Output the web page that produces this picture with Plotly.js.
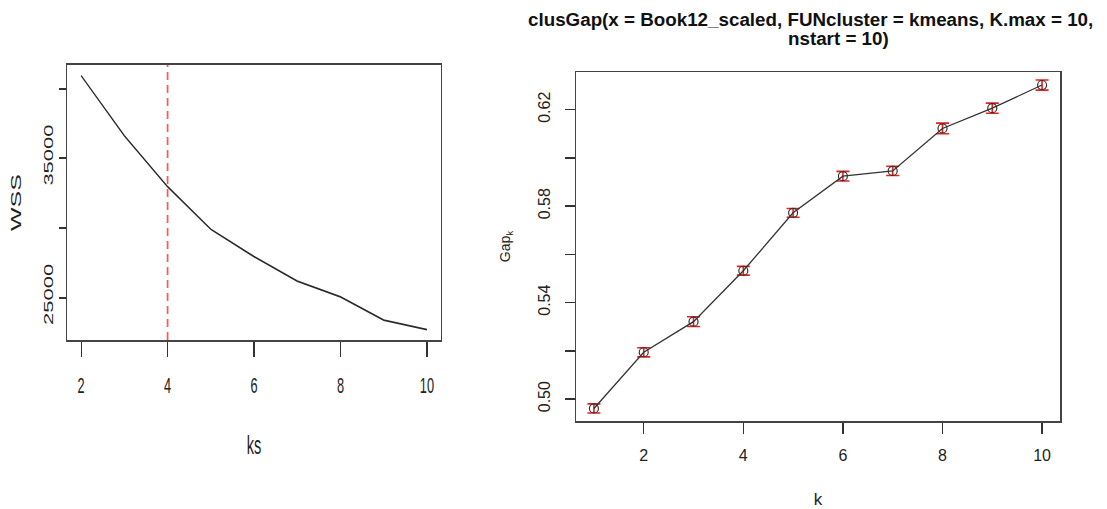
<!DOCTYPE html>
<html>
<head>
<meta charset="utf-8">
<script src="https://cdn.plot.ly/plotly-3.0.1.min.js"></script>
<style>
  html, body { margin: 0; padding: 0; background: #ffffff; }
  #wrap { position: relative; width: 1107px; height: 509px; overflow: hidden; background: #fff; }
  #left { position: absolute; left: 0; top: 0; width: 810px; height: 509px; transform: scaleX(0.58); transform-origin: 0 0; }
  #right { position: absolute; left: 470px; top: 0; width: 637px; height: 509px; }
</style>
</head>
<body>
<div id="wrap">
  <div id="left"></div>
  <div id="right"></div>
</div>
<script>
// ---- Left panel: elbow plot ----
const ks = [2, 3, 4, 5, 6, 7, 8, 9, 10];
const wss = [40935, 36620, 32970, 29910, 27940, 26190, 25060, 23380, 22710];
const elbowK = 4;
const wssTickVals = [25000, 30000, 35000, 40000];
const wssTickText = ["25000", " ", "35000", " "];
const ksTickVals = [2, 4, 6, 8, 10];

// ---- Right panel: gap statistic ----
const kVals = [1, 2, 3, 4, 5, 6, 7, 8, 9, 10];
const gap = [0.4961, 0.5194, 0.5321, 0.5532, 0.5772, 0.5924, 0.5946, 0.6122, 0.6206, 0.6302];
const gapSE = [0.0019, 0.0019, 0.0020, 0.0018, 0.0018, 0.0020, 0.0019, 0.0022, 0.0021, 0.0021];
const gapTickVals = [0.50, 0.52, 0.54, 0.56, 0.58, 0.60, 0.62];
const gapTickText = ["0.50", " ", "0.54", " ", "0.58", " ", "0.62"];
const kTickVals = [2, 4, 6, 8, 10];
const titleLine1 = "clusGap(x = Book12_scaled, FUNcluster = kmeans, K.max = 10,";
const titleLine2 = "nstart = 10)";

const FONT = "Liberation Sans, Arial, sans-serif";

// Left
Plotly.newPlot("left", [{
  x: ks, y: wss, type: "scatter", mode: "lines",
  line: { color: "#2a2a2a", width: 1.8 },
  hoverinfo: "skip"
}], {
  width: 810, height: 509,
  margin: { l: 116, r: 50, t: 65, b: 169 },
  paper_bgcolor: "rgba(0,0,0,0)", plot_bgcolor: "#ffffff",
  showlegend: false,
  font: { family: FONT, color: "#222222" },
  xaxis: {
    range: [1.68, 10.32], tickvals: ksTickVals, ticktext: ksTickVals.map(String),
    ticks: "outside", ticklen: 15, tickwidth: 2, tickcolor: "#333",
    showline: true, mirror: true, linecolor: "#444", linewidth: 2,
    showgrid: false, zeroline: false,
    tickfont: { size: 22, color: "#222" }, ticklabelstandoff: 10,
    title: { text: "ks", font: { size: 25, color: "#222" }, standoff: 39 },
    automargin: false
  },
  yaxis: {
    range: [21960, 41700], tickvals: wssTickVals, ticktext: wssTickText,
    ticks: "outside", ticklen: 12, tickwidth: 2, tickcolor: "#333",
    showline: true, mirror: true, linecolor: "#444", linewidth: 2,
    showgrid: false, zeroline: false, tickangle: -90,
    tickfont: { size: 22, color: "#222" }, ticklabelstandoff: 2,
    title: { text: "WSS", font: { size: 25, color: "#222" }, standoff: 28 },
    automargin: false
  },
  shapes: [{
    type: "line", xref: "x", yref: "paper", x0: elbowK, x1: elbowK, y0: 0, y1: 1,
    line: { color: "rgba(255,45,45,0.8)", width: 3, dash: "8px,5px" }
  }]
}, { staticPlot: true, displayModeBar: false });

// Right
Plotly.newPlot("right", [{
  x: kVals, y: gap, type: "scatter", mode: "lines+markers",
  line: { color: "#333333", width: 1.3 },
  marker: { symbol: "circle-open", size: 9, color: "#333333", line: { width: 1.2 } },
  error_y: { type: "data", array: gapSE, visible: true, color: "#e8201c", thickness: 1.6, width: 6.5 },
  hoverinfo: "skip"
}], {
  width: 637, height: 509,
  margin: { l: 106, r: 47, t: 72, b: 88 },
  paper_bgcolor: "rgba(0,0,0,0)", plot_bgcolor: "#ffffff",
  showlegend: false,
  font: { family: FONT, color: "#222222" },
  xaxis: {
    range: [0.64, 10.36], tickvals: kTickVals, ticktext: kTickVals.map(String),
    ticks: "outside", ticklen: 11, tickwidth: 1.5, tickcolor: "#333",
    showline: true, mirror: true, linecolor: "#444", linewidth: 1.5,
    showgrid: false, zeroline: false,
    tickfont: { size: 16, color: "#222" }, ticklabelstandoff: 8,
    title: { text: "k", font: { size: 17, color: "#222" }, standoff: 30 },
    automargin: false
  },
  yaxis: {
    range: [0.4909, 0.6356], tickvals: gapTickVals, ticktext: gapTickText,
    ticks: "outside", ticklen: 10, tickwidth: 1.5, tickcolor: "#333",
    showline: true, mirror: true, linecolor: "#444", linewidth: 1.5,
    showgrid: false, zeroline: false, tickangle: -90,
    tickfont: { size: 16, color: "#222" }, ticklabelstandoff: 8,
    title: { text: "Gap<sub>k</sub>", font: { size: 14, color: "#222" }, standoff: 22 },
    automargin: false
  },
  annotations: [
    { text: "<b>" + titleLine1 + "</b>", xref: "paper", yref: "paper", x: 0, y: 1,
      xanchor: "left", yanchor: "middle", xshift: -50, yshift: 53, showarrow: false,
      font: { size: 18.8, color: "#111", family: FONT } },
    { text: "<b>" + titleLine2 + "</b>", xref: "paper", yref: "paper", x: 0, y: 1,
      xanchor: "center", yanchor: "middle", xshift: 262, yshift: 34, showarrow: false,
      font: { size: 18.8, color: "#111", family: FONT } }
  ]
}, { staticPlot: true, displayModeBar: false });
</script>
</body>
</html>
